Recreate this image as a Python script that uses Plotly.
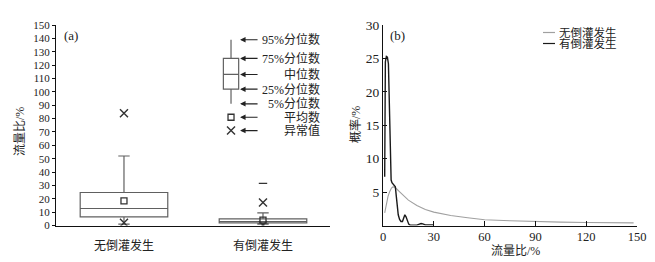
import plotly.graph_objects as go

# ---------------- data ----------------
categories = ["无倒灌发生", "有倒灌发生"]
cat_pos = [1, 2]
box_q1 = [6.5, 2.0]
box_median = [12.7, 3.0]
box_q3 = [24.7, 5.0]
box_p5 = [1.0, 1.0]
box_p95 = [52.0, 9.5]
box_mean = [18.4, 4.0]
outliers_x = [1, 1, 2, 2]
outliers_y = [84.0, 2.0, 17.2, 0.3]
max_x = [2]
max_y = [31.5]

# legend key (explanatory box) in panel (a)
key_pos = 1.77
key_p95, key_q3, key_median, key_q1, key_p5 = 139, 125, 113, 102, 91
key_mean, key_outlier = 81, 71
key_labels = ["95%分位数", "75%分位数", "中位数", "25%分位数", "5%分位数", "平均数", "异常值"]
key_values = [key_p95, key_q3, key_median, key_q1, key_p5, key_mean, key_outlier]

# panel (b) probability curves
series_names = ["无倒灌发生", "有倒灌发生"]
no_x = [1, 2, 3, 4, 5, 6, 7, 8, 10, 12, 15, 20, 25, 30, 40, 50, 60, 75, 90, 105, 120, 135, 148]
no_y = [1.9, 3.2, 4.4, 5.1, 5.6, 5.8, 5.7, 5.5, 5.0, 4.5, 3.8, 3.0, 2.4, 2.0, 1.5, 1.15, 0.85, 0.7,
        0.55, 0.5, 0.45, 0.42, 0.4]
yes_x = [1.0, 1.1, 1.4, 2.0, 2.6, 3.2, 3.6, 4.0, 4.4, 4.8, 5.3, 6.0, 6.8, 7.3, 7.8, 8.4, 9.0, 9.8,
         10.6, 11.5, 12.3, 12.9, 13.6, 14.4, 15.2, 16.0, 18.0, 20.0, 21.5, 22.5, 23.5, 25.0, 27.0, 29.0, 30.0]
yes_y = [7.3, 18, 24.5, 25.3, 25.2, 24.2, 20, 13, 8.5, 6.8, 6.4, 6.2, 6.1, 5.8, 4.5, 2.8, 1.6, 0.9,
         0.6, 0.6, 1.3, 1.6, 1.3, 0.6, 0.2, 0.05, 0, 0.05, 0.2, 0.3, 0.25, 0.1, 0.1, 0.15, 0.1]

W, H = 655, 262
SERIF = "Liberation Serif, Noto Sans CJK SC"
TXT = "#222222"
BOXC = "#606060"

def px(xp):
    return xp / W

def py(yp):
    return 1 - yp / H

fig = go.Figure()

# ---- panel (a): boxes
for i in range(len(categories)):
    fig.add_trace(go.Box(
        x=[cat_pos[i]], q1=[box_q1[i]], median=[box_median[i]], q3=[box_q3[i]],
        lowerfence=[box_p5[i]], upperfence=[box_p95[i]],
        width=0.63, whiskerwidth=0.13, boxpoints=False,
        fillcolor="rgba(0,0,0,0)", line=dict(color=BOXC, width=1.2),
        xaxis="x", yaxis="y", showlegend=False, hoverinfo="skip"))

# key box
fig.add_trace(go.Box(
    x=[key_pos], q1=[key_q1], median=[key_median], q3=[key_q3],
    lowerfence=[key_p5], upperfence=[key_p95],
    width=0.11, whiskerwidth=0, boxpoints=False,
    fillcolor="rgba(0,0,0,0)", line=dict(color=BOXC, width=1.2),
    xaxis="x", yaxis="y", showlegend=False, hoverinfo="skip"))

# means
fig.add_trace(go.Scatter(
    x=cat_pos + [key_pos], y=box_mean + [key_mean], mode="markers",
    marker=dict(symbol="square-open", size=6, color="#333333", line=dict(width=1.3)),
    xaxis="x", yaxis="y", showlegend=False, hoverinfo="skip"))
# outliers
fig.add_trace(go.Scatter(
    x=outliers_x + [key_pos], y=outliers_y + [key_outlier], mode="markers",
    marker=dict(symbol="x-thin-open", size=8, color="#333333", line=dict(width=1.4, color="#333333")),
    xaxis="x", yaxis="y", showlegend=False, hoverinfo="skip"))
# max marker
fig.add_trace(go.Scatter(
    x=max_x, y=max_y, mode="markers",
    marker=dict(symbol="line-ew-open", size=6, color="#333333", line=dict(width=1.3, color="#333333")),
    xaxis="x", yaxis="y", showlegend=False, hoverinfo="skip"))

# ---- panel (b): curves
fig.add_trace(go.Scatter(x=no_x, y=no_y, mode="lines", name=series_names[0],
                         line=dict(color="#a0a0a0", width=1.1),
                         xaxis="x2", yaxis="y2", showlegend=False))
fig.add_trace(go.Scatter(x=yes_x, y=yes_y, mode="lines", name=series_names[1],
                         line=dict(color="#1a1a1a", width=1.4),
                         xaxis="x2", yaxis="y2", showlegend=False))

annotations = []
# key labels & arrows
for lab, val in zip(key_labels, key_values):
    annotations.append(dict(x=2.424, y=val, xref="x", yref="y", text=lab, showarrow=False,
                            xanchor="right", yanchor="middle",
                            font=dict(family=SERIF, size=12, color=TXT)))
    annotations.append(dict(x=1.835, y=val, xref="x", yref="y", text="", showarrow=True,
                            ax=19, ay=0, arrowhead=2, arrowsize=1, arrowwidth=1.1,
                            arrowcolor="#222222"))

# panel labels
annotations.append(dict(x=px(62), y=py(35), xref="paper", yref="paper", text="(a)",
                        showarrow=False, xanchor="left", yanchor="middle",
                        font=dict(family=SERIF, size=13, color=TXT)))
annotations.append(dict(x=px(388), y=py(35), xref="paper", yref="paper", text="(b)",
                        showarrow=False, xanchor="left", yanchor="middle",
                        font=dict(family=SERIF, size=13, color=TXT)))
# y titles
annotations.append(dict(x=px(20), y=py(132), xref="paper", yref="paper", text="流量比/%",
                        showarrow=False, textangle=-90, xanchor="center", yanchor="middle",
                        font=dict(family=SERIF, size=12, color=TXT)))
annotations.append(dict(x=px(355), y=py(125), xref="paper", yref="paper", text="概率/%",
                        showarrow=False, textangle=-90, xanchor="center", yanchor="middle",
                        font=dict(family=SERIF, size=12, color=TXT)))
# x title panel b
annotations.append(dict(x=px(515), y=py(251), xref="paper", yref="paper", text="流量比/%",
                        showarrow=False, xanchor="center", yanchor="middle",
                        font=dict(family=SERIF, size=12, color=TXT)))
# legend for panel b
leg_rows = [32.5, 43.5]
leg_colors = ["#a0a0a0", "#1a1a1a"]
shapes = []
for name, yy, col in zip(series_names, leg_rows, leg_colors):
    annotations.append(dict(x=px(557), y=py(yy), xref="paper", yref="paper", text=name,
                            showarrow=False, xanchor="left", yanchor="middle",
                            font=dict(family=SERIF, size=11.5, color=TXT)))
    shapes.append(dict(type="line", xref="paper", yref="paper",
                       x0=px(543), x1=px(555), y0=py(yy), y1=py(yy),
                       line=dict(color=col, width=1.2)))

ydom = [1 - 225.5 / H, 1 - 25 / H]
axis_common = dict(showgrid=False, zeroline=False, showline=True, linecolor="#111111", linewidth=1,
                   automargin=False, tickfont=dict(family=SERIF, color=TXT))

fig.update_layout(
    width=W, height=H,
    margin=dict(l=0, r=0, t=0, b=0, autoexpand=False),
    paper_bgcolor="white", plot_bgcolor="white",
    xaxis=dict(axis_common, domain=[56 / W, 330 / W], range=[0.511, 2.482],
               tickvals=cat_pos, ticktext=categories, ticks="", ticklabelstandoff=9,
               tickfont=dict(family=SERIF, size=12, color=TXT), anchor="y"),
    yaxis=dict(axis_common, domain=ydom, range=[0, 150], tickvals=list(range(0, 151, 10)),
               ticks="outside", ticklen=3, tickcolor="#111111",
               tickfont=dict(family=SERIF, size=11, color=TXT), anchor="x"),
    xaxis2=dict(axis_common, domain=[383 / W, 637 / W], range=[0, 150],
                tickvals=[0, 30, 60, 90, 120, 150], ticks="inside", ticklen=5, tickcolor="#111111",
                ticklabelstandoff=-1,
                tickfont=dict(family=SERIF, size=12.5, color=TXT), anchor="y2"),
    yaxis2=dict(axis_common, domain=ydom, range=[0, 30], tickvals=[5, 10, 15, 20, 25, 30],
                ticks="inside", ticklen=4, tickcolor="#111111",
                tickfont=dict(family=SERIF, size=13.5, color=TXT), anchor="x2"),
    annotations=annotations,
    shapes=shapes,
    showlegend=False,
)

fig.write_html("out.html")
